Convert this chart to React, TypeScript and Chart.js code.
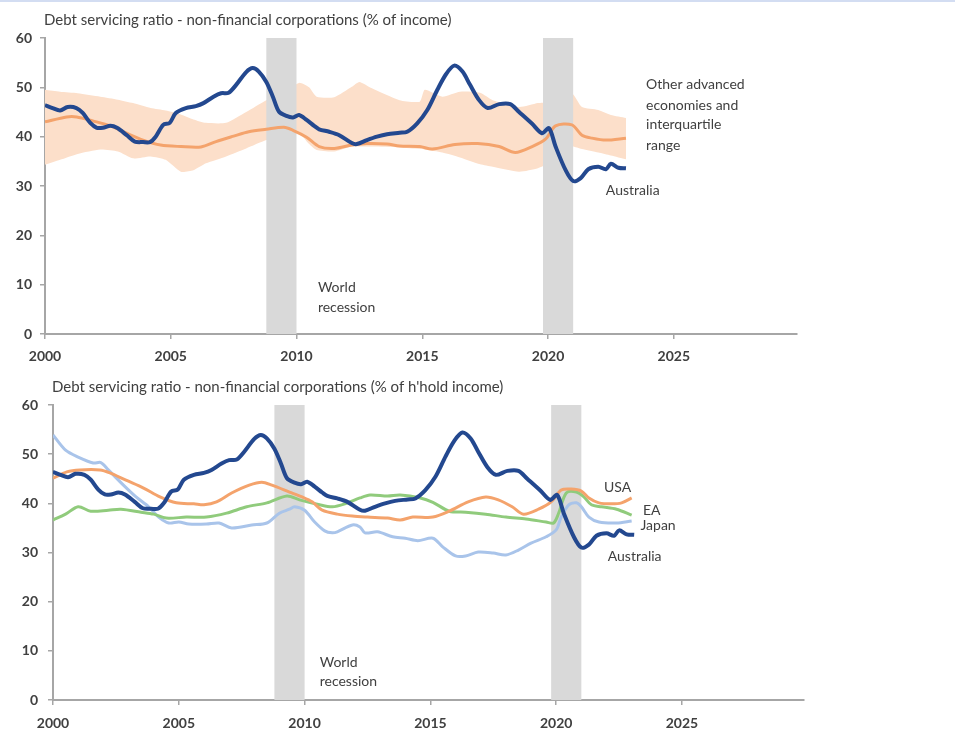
import React, { useEffect, useRef } from "react";
import { Chart, registerables } from "chart.js";

Chart.register(...registerables);

// ---------- DATA ----------
const topTitle = "Debt servicing ratio - non-financial corporations (% of income)";
const bottomTitle = "Debt servicing ratio - non-financial corporations (% of h'hold income)";

const xTickValues = [2000, 2005, 2010, 2015, 2020, 2025];
const yTickValues = [0, 10, 20, 30, 40, 50, 60];

const recessionStart = [2008.8, 2019.8];
const recessionEnd = [2010.0, 2021.0];

const ausYears = [
  2000.0, 2000.3, 2000.6, 2000.9, 2001.25, 2001.5, 2001.8, 2002.06, 2002.3, 2002.6,
  2002.86, 2003.25, 2003.57, 2003.9, 2004.17, 2004.4, 2004.7, 2004.96, 2005.2, 2005.6,
  2006.0, 2006.3, 2006.7, 2007.0, 2007.3, 2007.6, 2008.0, 2008.26, 2008.5, 2008.8,
  2009.06, 2009.3, 2009.6, 2009.86, 2010.1, 2010.4, 2010.7, 2010.9, 2011.3, 2011.7,
  2012.2, 2012.4, 2012.8, 2013.2, 2013.6, 2014.1, 2014.4, 2014.8, 2015.2, 2015.6,
  2015.95, 2016.27, 2016.6, 2016.9, 2017.26, 2017.6, 2018.06, 2018.5, 2018.85, 2019.37,
  2019.76, 2020.04, 2020.3, 2020.7, 2021.0, 2021.3, 2021.6, 2022.0, 2022.3, 2022.5,
  2022.8, 2023.1,
];
const ausValues = [
  46.4, 45.8, 45.3, 46.0, 45.8, 44.8, 42.8, 41.8, 41.8, 42.2,
  41.8, 40.3, 39.0, 38.9, 38.9, 40.0, 42.4, 42.8, 44.8, 45.8,
  46.2, 46.8, 48.1, 48.8, 48.9, 50.5, 53.1, 53.9, 53.2, 51.1,
  48.1, 45.1, 44.2, 43.9, 44.4, 43.4, 42.2, 41.5, 41.0, 40.3,
  38.7, 38.5, 39.3, 40.0, 40.5, 40.8, 41.0, 42.7, 45.4, 49.5,
  52.7, 54.4, 53.2, 50.5, 47.4, 45.8, 46.6, 46.6, 45.0, 42.6,
  40.7, 41.7, 38.0, 33.2, 31.0, 31.6, 33.4, 33.9, 33.4, 34.5,
  33.7, 33.6,
];

const oaeYears = [
  2000, 2000.86, 2001.26, 2001.9, 2002.6, 2003.25, 2003.9, 2004.6, 2005.4, 2006.2,
  2006.8, 2007.5, 2008.1, 2008.8, 2009.5, 2009.86, 2010.4, 2010.9, 2011.5, 2012.2,
  2012.8, 2013.6, 2014.1, 2014.9, 2015.4, 2016.3, 2017.2, 2018.06, 2018.7, 2019.37,
  2019.9, 2020.3, 2020.95, 2021.35, 2021.75, 2022.3, 2023.1,
];
const oaeMedian = [
  43.0, 44.0, 44.0, 43.2, 42.2, 40.7, 39.3, 38.3, 38.0, 37.9,
  39.0, 40.1, 41.0, 41.5, 41.9, 41.3, 39.9, 38.0, 37.6, 38.3,
  38.6, 38.5, 38.1, 38.0, 37.5, 38.4, 38.6, 38.0, 36.8, 38.0,
  39.5, 42.2, 42.4, 40.3, 39.7, 39.3, 39.7,
];

const bandYears = [
  2000, 2000.6, 2001.3, 2002.2, 2002.9, 2003.5, 2004.2, 2004.8, 2005.4, 2005.9,
  2006.4, 2007.2, 2008.0, 2008.8, 2009.5, 2010.1, 2010.5, 2010.8, 2011.5, 2012.2,
  2012.5, 2013.0, 2014.1, 2014.9, 2015.1, 2015.8, 2016.5, 2017.3, 2017.8, 2018.85,
  2019.6, 2020.0, 2020.3, 2020.95, 2021.35, 2022.0, 2022.5, 2023.1,
];
const bandUpper = [
  49.5, 49.1, 48.8, 48.1, 47.5, 46.8, 45.8, 45.3, 44.5, 43.5,
  42.8, 42.8, 45.0, 47.4, 49.0, 50.9, 50.0, 48.1, 48.0, 50.1,
  51.1, 49.8, 47.4, 47.1, 49.5, 48.1, 49.1, 48.9, 47.4, 46.0,
  46.8, 47.1, 49.1, 48.8, 46.0, 45.4, 44.4, 43.8,
];
const bandLower = [
  34.3, 35.3, 36.5, 37.4, 37.0, 35.6, 36.0, 35.3, 32.9, 33.2,
  34.6, 36.0, 37.6, 39.3, 40.2, 40.7, 38.5, 37.3, 37.0, 38.0,
  38.0, 38.0, 37.8, 37.5, 37.4, 36.8, 35.8, 34.4, 33.9, 32.9,
  33.6, 34.6, 37.3, 38.0, 37.5, 36.8, 36.2, 35.4,
];

const usaYears = [
  2000, 2000.55, 2001.07, 2001.87, 2002.26, 2002.9, 2003.6, 2004.25, 2004.9, 2005.6,
  2006.0, 2006.5, 2007.1, 2007.8, 2008.3, 2008.7, 2009.4, 2009.9, 2010.3, 2010.7,
  2011.3, 2011.9, 2012.5, 2013.3, 2013.8, 2014.3, 2015.1, 2015.75, 2016.5, 2017.2,
  2017.7, 2018.25, 2018.7, 2019.3, 2019.8, 2020.2, 2020.6, 2021.0, 2021.3, 2021.7,
  2022.2, 2022.6, 2023.0,
];
const usaValues = [
  45.1, 46.4, 46.8, 46.8, 46.2, 44.7, 43.1, 41.3, 40.1, 39.9,
  39.7, 40.3, 42.1, 43.7, 44.3, 43.7, 42.3, 41.3, 40.3, 38.6,
  37.8, 37.4, 37.2, 37.0, 36.6, 37.2, 37.2, 38.4, 40.3, 41.3,
  40.7, 39.3, 37.8, 38.8, 40.3, 42.7, 42.9, 42.5, 41.1, 40.1,
  39.9, 40.1, 41.1,
];

const eaYears = [
  2000, 2000.5, 2001.0, 2001.5, 2002.2, 2002.7, 2003.5, 2004.0, 2004.5, 2005.3,
  2006.1, 2006.9, 2007.7, 2008.5, 2009.3, 2009.8, 2010.6, 2011.1, 2011.6, 2012.2,
  2012.6, 2013.3, 2013.8, 2014.6, 2015.1, 2015.75, 2016.4, 2017.2, 2018.0, 2018.8,
  2019.6, 2019.9, 2020.1, 2020.4, 2020.8, 2021.1, 2021.4, 2021.8, 2022.4, 2023.0,
];
const eaValues = [
  36.6, 37.8, 39.3, 38.4, 38.6, 38.8, 38.2, 37.8, 37.0, 37.2,
  37.2, 38.0, 39.3, 40.1, 41.5, 40.7, 39.7, 39.3, 39.9, 41.1,
  41.7, 41.5, 41.7, 41.1, 40.2, 38.4, 38.2, 37.8, 37.2, 36.8,
  36.2, 36.0, 38.0, 42.1, 42.3, 41.3, 39.7, 39.3, 38.8, 37.6,
];

const japanYears = [
  2000, 2000.5, 2001.0, 2001.6, 2001.9, 2002.2, 2002.8, 2003.3, 2003.8, 2004.2,
  2004.6, 2005.0, 2005.4, 2006.1, 2006.6, 2007.1, 2007.9, 2008.5, 2009.0, 2009.4,
  2009.6, 2010.0, 2010.4, 2010.8, 2011.1, 2011.3, 2011.9, 2012.2, 2012.4, 2012.9,
  2013.5, 2014.0, 2014.5, 2015.1, 2015.5, 2016.0, 2016.4, 2016.9, 2017.5, 2018.0,
  2018.5, 2019.0, 2019.6, 2020.0, 2020.2, 2020.5, 2020.8, 2021.0, 2021.3, 2021.7,
  2022.4, 2023.0,
];
const japanValues = [
  53.9, 50.8, 49.4, 48.2, 48.3, 46.8, 43.7, 41.3, 39.3, 37.2,
  36.0, 36.2, 35.8, 35.8, 36.0, 35.0, 35.6, 36.0, 38.0, 38.8,
  39.3, 38.6, 36.2, 34.4, 34.0, 34.2, 35.6, 35.2, 34.0, 34.2,
  33.2, 32.9, 32.4, 32.9, 31.1, 29.3, 29.3, 30.1, 29.9, 29.5,
  30.5, 31.9, 33.2, 34.6, 37.2, 39.7, 40.1, 39.3, 37.2, 36.2,
  36.0, 36.4,
];

// labels: text lines, x (year), y (value) of each line
const topLabels = [
  { lines: ["Other advanced", "economies and", "interquartile", "range"], x: 2023.9, y: [50.5, 46.4, 42.4, 38.3] },
  { lines: ["Australia"], x: 2022.3, y: [29.0] },
  { lines: ["World", "recession"], x: 2010.85, y: [9.5, 5.3] },
];
const bottomLabels = [
  { lines: ["USA"], x: 2021.9, y: [43.3] },
  { lines: ["EA"], x: 2023.45, y: [38.6] },
  { lines: ["Japan"], x: 2023.35, y: [35.4] },
  { lines: ["Australia"], x: 2022.05, y: [29.1] },
  { lines: ["World", "recession"], x: 2010.6, y: [7.7, 3.7] },
];

// ---------- STYLE ----------
const FONT = "Lato, 'Open Sans', sans-serif";
const TEXT = "#404040";
const AXIS = "#a6a6a6";
const BLUE = "#23488f";
const ORANGE = "#f4a36c";
const BAND = "#fcdfca";
const GREEN = "#90cb7c";
const LIGHTBLUE = "#a9c4ea";
const RECESSION = "#d9d9d9";

const pts = (xs: number[], ys: number[]) => xs.map((x, i) => ({ x, y: ys[i] }));

const lineDs = (label: string, xs: number[], ys: number[], color: string, width: number) => ({
  label,
  data: pts(xs, ys),
  borderColor: color,
  backgroundColor: color,
  borderWidth: width,
  pointRadius: 0,
  tension: 0.3,
  fill: false,
});

function makeOptions(xMax: number, yWidth: number, yPad: number, xPad: number, padding: any, title: string, labels: any[]) {
  return {
    type: "line",
    options: {
      responsive: false,
      animation: false,
      layout: { padding },
      plugins: {
        legend: { display: false },
        tooltip: { enabled: false },
        filler: { drawTime: "beforeDatasetsDraw" },
        annot: { title, labels },
      },
      scales: {
        x: {
          type: "linear",
          min: 2000,
          max: xMax,
          afterBuildTicks: (s: any) => {
            s.ticks = xTickValues.map((v) => ({ value: v }));
          },
          afterFit: (s: any) => {
            s.height = 30;
          },
          ticks: {
            autoSkip: false,
            maxRotation: 0,
            padding: xPad,
            color: TEXT,
            font: { family: FONT, size: 14, weight: "bold" },
            callback: (v: any) => String(v),
          },
          grid: { display: true, drawOnChartArea: false, drawTicks: true, tickLength: 5, color: AXIS, lineWidth: 1.5 },
          border: { display: true, color: AXIS, width: 2 },
        },
        y: {
          min: 0,
          max: 60,
          afterBuildTicks: (s: any) => {
            s.ticks = yTickValues.map((v) => ({ value: v }));
          },
          afterFit: (s: any) => {
            s.width = yWidth;
          },
          ticks: {
            padding: yPad,
            color: TEXT,
            font: { family: FONT, size: 14, weight: "bold" },
          },
          grid: { display: true, drawOnChartArea: false, drawTicks: true, tickLength: 5, color: AXIS, lineWidth: 1.5 },
          border: { display: true, color: AXIS, width: 2 },
        },
      },
    },
  };
}

const annotPlugin = {
  id: "annot",
  beforeDatasetsDraw(chart: any) {
    const { ctx, chartArea, scales } = chart;
    ctx.save();
    ctx.fillStyle = RECESSION;
    recessionStart.forEach((s, i) => {
      const x1 = scales.x.getPixelForValue(s);
      const x2 = scales.x.getPixelForValue(recessionEnd[i]);
      ctx.fillRect(x1, chartArea.top, x2 - x1, chartArea.bottom - chartArea.top);
    });
    ctx.restore();
  },
  afterDraw(chart: any, _args: any, opts: any) {
    const { ctx, chartArea, scales } = chart;
    ctx.save();
    ctx.fillStyle = TEXT;
    ctx.textBaseline = "middle";
    ctx.textAlign = "left";
    ctx.font = `15px ${FONT}`;
    ctx.fillText(opts.title, chartArea.left - 1, chartArea.top - 18);
    ctx.font = `14px ${FONT}`;
    (opts.labels || []).forEach((l: any) => {
      const x = scales.x.getPixelForValue(l.x);
      l.lines.forEach((t: string, i: number) => {
        ctx.fillText(t, x, scales.y.getPixelForValue(l.y[i]));
      });
    });
    ctx.restore();
  },
};

function ChartBox({ make, top, height }: { make: () => any; top: number; height: number }) {
  const ref = useRef<HTMLCanvasElement>(null);
  useEffect(() => {
    const chart = new Chart(ref.current as HTMLCanvasElement, make());
    return () => chart.destroy();
  }, []);
  return (
    <div style={{ position: "absolute", left: 0, top, width: 955, height }}>
      <canvas ref={ref} width={955} height={height} style={{ display: "block" }} />
    </div>
  );
}

function makeTop() {
  const cfg: any = makeOptions(2029.9, 45, 8, 9, { left: 0, top: 38, right: 955 - 797, bottom: 4 }, topTitle, topLabels);
  cfg.data = {
    datasets: [
      lineDs("Australia", ausYears, ausValues, BLUE, 4),
      lineDs("Other advanced economies", oaeYears, oaeMedian, ORANGE, 3),
      {
        label: "Upper quartile",
        data: pts(bandYears, bandUpper),
        borderColor: "transparent",
        backgroundColor: BAND,
        borderWidth: 0,
        pointRadius: 0,
        tension: 0.2,
        fill: "+1",
      },
      {
        label: "Lower quartile",
        data: pts(bandYears, bandLower),
        borderColor: "transparent",
        backgroundColor: BAND,
        borderWidth: 0,
        pointRadius: 0,
        tension: 0.2,
        fill: false,
      },
    ],
  };
  cfg.plugins = [annotPlugin];
  return cfg;
}

function makeBottom() {
  const cfg: any = makeOptions(2029.85, 53, 10, 10, { left: 0, top: 37, right: 955 - 804, bottom: 1 }, bottomTitle, bottomLabels);
  cfg.data = {
    datasets: [
      lineDs("Australia", ausYears, ausValues, BLUE, 4),
      lineDs("USA", usaYears, usaValues, ORANGE, 3),
      lineDs("EA", eaYears, eaValues, GREEN, 3),
      lineDs("Japan", japanYears, japanValues, LIGHTBLUE, 3),
    ],
  };
  cfg.plugins = [annotPlugin];
  return cfg;
}

export default function App() {
  return (
    <div style={{ position: "absolute", left: 0, top: 0, width: 955, height: 731, background: "#fff", overflow: "hidden" }}>
      <div style={{ position: "absolute", left: 0, top: 0, width: 955, height: 2, background: "#d3ddf2" }} />
      <ChartBox make={makeTop} top={0} height={368} />
      <ChartBox make={makeBottom} top={368} height={363} />
    </div>
  );
}
